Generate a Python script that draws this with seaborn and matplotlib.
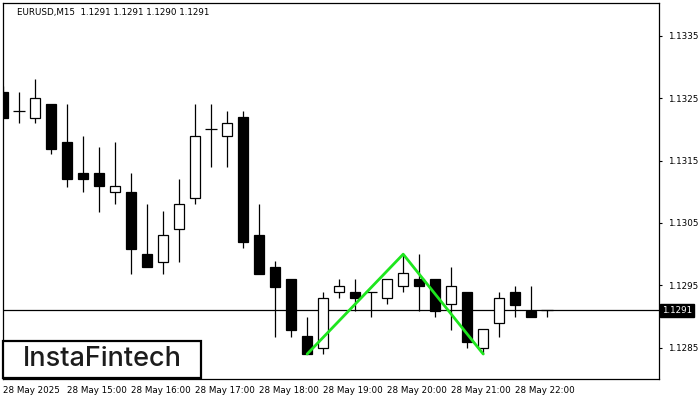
import numpy as np
import pandas as pd
import matplotlib
matplotlib.use("Agg")
import matplotlib.pyplot as plt
from matplotlib.patches import Rectangle
import seaborn as sns

# EURUSD M15 candles, 28 May 2025 14:00 .. 22:30
times = pd.date_range("2025-05-28 14:00", periods=35, freq="15min")
opens = [1.13260, 1.13229, 1.13219, 1.13241, 1.13180, 1.13130, 1.13130, 1.13100, 1.13100, 1.13001,
         1.12988, 1.13040, 1.13090, 1.13200, 1.13189, 1.13220, 1.13030, 1.12980, 1.12961, 1.12869,
         1.12850, 1.12939, 1.12940, 1.12940, 1.12930, 1.12949, 1.12961, 1.12961, 1.12920, 1.12940,
         1.12850, 1.12890, 1.12940, 1.12909, 1.12910]
highs = [1.13270, 1.13260, 1.13281, 1.13241, 1.13241, 1.13190, 1.13171, 1.13180, 1.13130, 1.13081,
         1.13070, 1.13121, 1.13241, 1.13241, 1.13229, 1.13229, 1.13081, 1.12989, 1.12961, 1.12900,
         1.12940, 1.12961, 1.12961, 1.12940, 1.12961, 1.13000, 1.13000, 1.12961, 1.12980, 1.12940,
         1.12880, 1.12940, 1.12949, 1.12949, 1.12910]
lows = [1.13219, 1.13210, 1.13210, 1.13160, 1.13108, 1.13099, 1.13068, 1.13080, 1.12969, 1.12979,
        1.12969, 1.12988, 1.13080, 1.13139, 1.13139, 1.13010, 1.12969, 1.12868, 1.12868, 1.12840,
        1.12840, 1.12929, 1.12909, 1.12899, 1.12920, 1.12939, 1.12909, 1.12900, 1.12879, 1.12850,
        1.12840, 1.12868, 1.12899, 1.12899, 1.12900]
closes = [1.13219, 1.13229, 1.13250, 1.13169, 1.13120, 1.13120, 1.13109, 1.13109, 1.13009, 1.12979,
          1.13030, 1.13080, 1.13189, 1.13200, 1.13210, 1.13019, 1.12969, 1.12948, 1.12879, 1.12840,
          1.12930, 1.12949, 1.12929, 1.12940, 1.12961, 1.12970, 1.12949, 1.12909, 1.12949, 1.12859,
          1.12880, 1.12930, 1.12919, 1.12899, 1.12910]

# double top pattern: low - peak - low
pattern_idx = [19, 25, 30]
pattern_price = [1.1284, 1.1300, 1.1284]

last_price = 1.1291
yticks = [1.1285, 1.1295, 1.1305, 1.1315, 1.1325, 1.1335]
xtick_idx = [0, 4, 8, 12, 16, 20, 24, 28, 32]
xtick_labels = ["28 May 2025", "28 May 15:00", "28 May 16:00", "28 May 17:00", "28 May 18:00",
                "28 May 19:00", "28 May 20:00", "28 May 21:00", "28 May 22:00"]

df = pd.DataFrame({"time": times, "open": opens, "high": highs, "low": lows, "close": closes})
df["i"] = np.arange(len(df))

sns.set_style("white")
plt.rcParams["font.family"] = ["DejaVu Sans"]

fig = plt.figure(figsize=(7, 4), dpi=100)
ax = fig.add_axes([2.7 / 700, 21 / 400, 656.6 / 700, 376.3 / 400])

w = 0.62
up = df[df["close"] > df["open"]]
dn = df[df["close"] < df["open"]]
flat = df[df["close"] == df["open"]]

ax.vlines(df["i"], df["low"], df["high"], color="black", lw=0.9, zorder=2)
ax.bar(up["i"], up["close"] - up["open"], bottom=up["open"], width=w,
       color="white", edgecolor="black", linewidth=0.9, zorder=3)
ax.bar(dn["i"], dn["open"] - dn["close"], bottom=dn["close"], width=w,
       color="black", edgecolor="black", linewidth=0.9, zorder=3)
ax.hlines(flat["open"], flat["i"] - w / 2 - 0.05, flat["i"] + w / 2 + 0.05, color="black", lw=0.9, zorder=3)

ax.axhline(last_price, color="black", lw=0.9, zorder=1)

pat = pd.DataFrame({"i": pattern_idx, "price": pattern_price})
sns.lineplot(data=pat, x="i", y="price", color="#1ee61e", lw=2, ax=ax, zorder=4)

ax.set_xlim(-0.02, 41.0)
ax.set_ylim(1.12800, 1.13403)

ax.yaxis.tick_right()
ax.set_yticks(yticks)
ax.set_yticklabels([f"{v:.4f}" for v in yticks])
ax.set_xticks(xtick_idx)
ax.set_xticklabels(xtick_labels, ha="left")
ax.tick_params(axis="y", direction="out", length=2.5, width=0.8, pad=3.5, labelsize=6.3, colors="black")
ax.tick_params(axis="x", direction="out", length=3, width=0.8, pad=2, labelsize=6.3, colors="black")
ax.set_xlabel("")
ax.set_ylabel("")
for s in ax.spines.values():
    s.set_color("black")
    s.set_linewidth(0.9)

# current price tag
ax.text(1.004, last_price, "1.1291", transform=ax.get_yaxis_transform(), ha="left", va="center",
        fontsize=6.3, color="white",
        bbox=dict(boxstyle="square,pad=0.25", fc="black", ec="black"))

ax.text(0.022, 0.985, "EURUSD,M15  1.1291 1.1291 1.1290 1.1291", transform=ax.transAxes,
        ha="left", va="top", fontsize=6.3, color="black")

# logo
fig.patches.append(Rectangle((3 / 700, 22 / 400), 198 / 700, 37 / 400, transform=fig.transFigure,
                             fc="white", ec="black", lw=1.6, zorder=10))
fig.text(102 / 700, 40.5 / 400, "InstaFintech", ha="center", va="center", fontsize=19.5,
         family="Inter", fontweight="medium", color="#1c1c1c", zorder=11)

fig.savefig("out.png", dpi=100)
